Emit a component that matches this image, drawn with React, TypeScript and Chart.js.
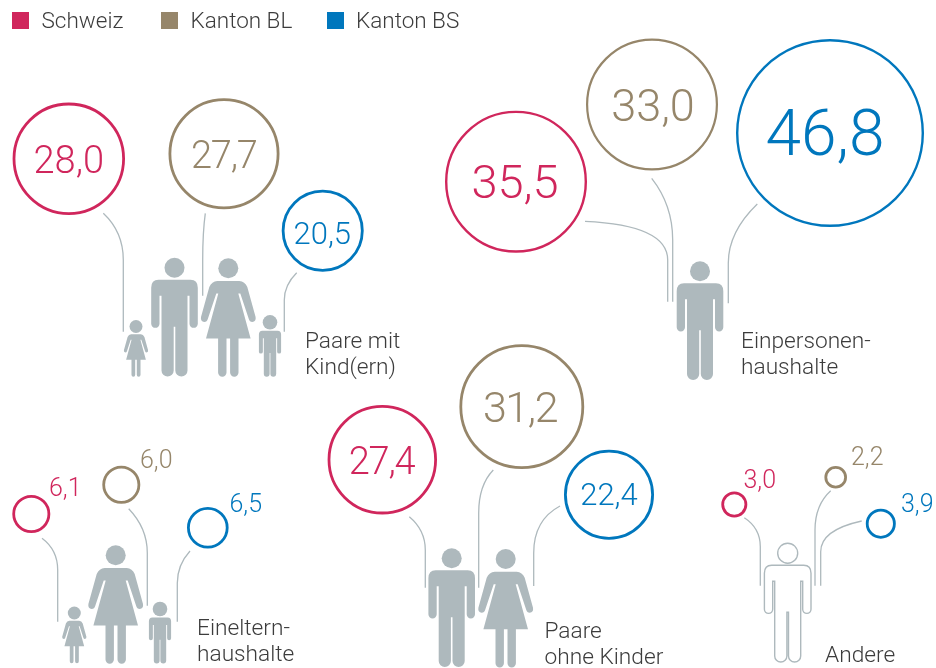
import React, { useEffect, useRef } from "react";
import { Chart, registerables } from "chart.js";

Chart.register(...registerables);

// ---- data ----
const categories = [
  ["Paare mit", "Kind(ern)"],
  ["Einpersonen-", "haushalte"],
  ["Eineltern-", "haushalte"],
  ["Paare", "ohne Kinder"],
  ["Andere"],
];
const seriesNames = ["Schweiz", "Kanton BL", "Kanton BS"];
const schweiz = [28.0, 35.5, 6.1, 27.4, 3.0];
const kantonBL = [27.7, 33.0, 6.0, 31.2, 2.2];
const kantonBS = [20.5, 46.8, 6.5, 22.4, 3.9];

// ---- layout (page pixels, kept apart from the values) ----
const W = 936;
const H = 668;
const colors = ["#D0265C", "#96866A", "#0077BD"];
const grey = "#AEB9BD";
const ink = "#3C3C3C";
const FONT = "Roboto, 'Liberation Sans', sans-serif";

const bubbleX = [
  [68.8, 516, 31.3, 382.3, 734.3],
  [224, 652, 121.3, 521.8, 835.7],
  [322.7, 830, 207.8, 609, 880.8],
];
const bubbleY = [
  [158.8, 181.7, 514, 459.7, 504.5],
  [153.8, 104.5, 484.7, 406.7, 477.3],
  [230.8, 133, 527.8, 494.7, 523.7],
];
const bubbleOuter = [
  [56.2, 71, 19, 54.7, 13],
  [55.5, 66, 19, 62.4, 11.3],
  [41, 94, 20.8, 45, 15],
];
const bubbleStroke = [
  [2.8, 2.4, 2.8, 2.8, 2.8],
  [2.8, 2.2, 2.8, 2.8, 2.8],
  [2.8, 2.4, 2.8, 2.8, 2.8],
];
const labelSize = [
  [38, 47, 25, 38, 25],
  [38, 45, 25, 43, 25],
  [31, 64, 25, 31, 25],
];
const labelTrack = [
  [0, 0, 0, -1.2, 0],
  [-1.2, 0, 0, -1.4, 0],
  [0, 0, 0, 0, 0],
];
// label anchor: centre x / baseline y; small circles carry it outside, left aligned
const labelX = [
  [68.8, 515, 49, 381.5, 743.5],
  [223.8, 653, 140, 520, 851],
  [322.3, 825, 229.5, 609, 901],
];
const labelY = [
  [172.7, 198.3, 495.7, 474.3, 488.3],
  [167.7, 121, 468.3, 422.3, 465],
  [244, 155, 511.7, 505, 511.7],
];
const labelInside = [true, true, false, true, false];

const legendBoxX = [12, 161, 327];
const legendTextX = [41.5, 190.5, 356];
const captionX = [305, 741, 197, 544.5, 825];
const captionY = [347.7, 348, 635, 637.7, 662.3];

// connector: start x, y, control x(=vertical x), control y, vertical start y, end y
const connectors = [
  [103.3, 213.3, 123.3, 232, 260, 331.7],
  [205.3, 213.3, 202.7, 232, 260, 295.7],
  [296.7, 272.7, 284.3, 285, 300, 331.7],
  [585, 221.3, 667.7, 225, 260, 301.7],
  [651.7, 178.3, 672.7, 205, 240, 301.7],
  [757.3, 204, 728.3, 232, 263, 303.3],
  [42, 538.3, 57.7, 550, 570, 621.7],
  [128.7, 508.7, 147.3, 528, 553, 605.7],
  [190, 551, 177.3, 565, 583, 621.7],
  [409.3, 516.7, 425.3, 530, 550, 587.7],
  [493.3, 470, 478.7, 485, 513, 587.7],
  [560, 506, 533.7, 520, 553, 586],
  [744.3, 517.7, 760.3, 528, 546.7, 585.7],
  [830.7, 490.7, 815, 505, 530, 585.7],
  [861.7, 521, 820.7, 530, 551.7, 585.7],
];

type Figure = { kind: "man" | "woman" | "boy" | "girl"; cx: number; top: number; outline?: boolean };
const figures: Figure[] = [
  { kind: "girl", cx: 136, top: 320 },
  { kind: "man", cx: 174.5, top: 257.7 },
  { kind: "woman", cx: 228.3, top: 258.3 },
  { kind: "boy", cx: 270, top: 315 },
  { kind: "man", cx: 700, top: 261.3 },
  { kind: "girl", cx: 74.3, top: 606.5 },
  { kind: "woman", cx: 115.7, top: 545.3 },
  { kind: "boy", cx: 160, top: 601.7 },
  { kind: "man", cx: 451.7, top: 548.3 },
  { kind: "woman", cx: 505.7, top: 549 },
  { kind: "man", cx: 787.7, top: 543.2, outline: true },
];

function manBody() {
  const p = new Path2D();
  p.moveTo(-16, 0);
  p.lineTo(16, 0);
  p.quadraticCurveTo(23.3, 0, 23.3, 8);
  p.lineTo(23.3, 44);
  p.arc(19.15, 44, 4.15, 0, Math.PI);
  p.lineTo(15, 16);
  p.lineTo(13, 16);
  p.lineTo(13, 90.7);
  p.arc(6.9, 90.7, 6.1, 0, Math.PI);
  p.lineTo(0.8, 47);
  p.lineTo(-0.8, 47);
  p.lineTo(-0.8, 90.7);
  p.arc(-6.9, 90.7, 6.1, 0, Math.PI);
  p.lineTo(-13, 16);
  p.lineTo(-15, 16);
  p.lineTo(-15, 44);
  p.arc(-19.15, 44, 4.15, 0, Math.PI);
  p.lineTo(-23.3, 8);
  p.quadraticCurveTo(-23.3, 0, -16, 0);
  p.closePath();
  return p;
}

function womanBody() {
  const p = new Path2D();
  p.moveTo(-11, 0);
  p.lineTo(11, 0);
  p.quadraticCurveTo(16.5, 0.5, 19, 6);
  p.lineTo(27.3, 36);
  p.quadraticCurveTo(28, 40.5, 24, 41);
  p.quadraticCurveTo(21.3, 41, 20.5, 38);
  p.lineTo(12, 12.5);
  p.lineTo(10, 12.5);
  p.lineTo(22.3, 57.5);
  p.lineTo(10.2, 57.5);
  p.lineTo(10.2, 91.5);
  p.arc(6, 91.5, 4.2, 0, Math.PI);
  p.lineTo(1.8, 57.5);
  p.lineTo(-1.8, 57.5);
  p.lineTo(-1.8, 91.5);
  p.arc(-6, 91.5, 4.2, 0, Math.PI);
  p.lineTo(-10.2, 57.5);
  p.lineTo(-22.3, 57.5);
  p.lineTo(-10, 12.5);
  p.lineTo(-12, 12.5);
  p.lineTo(-20.5, 38);
  p.quadraticCurveTo(-21.3, 41, -24, 41);
  p.quadraticCurveTo(-28, 40.5, -27.3, 36);
  p.lineTo(-19, 6);
  p.quadraticCurveTo(-16.5, 0.5, -11, 0);
  p.closePath();
  return p;
}

const figureSpec = {
  man: { body: manBody, headR: 10, bodyTop: 22, scale: 1 },
  woman: { body: womanBody, headR: 10, bodyTop: 22.7, scale: 1 },
  boy: { body: manBody, headR: 7.3, bodyTop: 15.7, scale: 0.476 },
  girl: { body: womanBody, headR: 6.5, bodyTop: 14.3, scale: 0.443 },
};

const infographic = {
  id: "infographic",
  beforeDatasetsDraw(chart: any) {
    const { ctx, scales } = chart;
    const px = (v: number) => scales.x.getPixelForValue(v);
    const py = (v: number) => scales.y.getPixelForValue(v);
    ctx.save();
    // connectors
    ctx.strokeStyle = grey;
    ctx.lineWidth = 1.3;
    connectors.forEach(([x0, y0, x1, cy, y1, y2]) => {
      ctx.beginPath();
      ctx.moveTo(px(x0), py(y0));
      ctx.quadraticCurveTo(px(x1), py(cy), px(x1), py(y1));
      ctx.lineTo(px(x1), py(y2));
      ctx.stroke();
    });
    // figures
    figures.forEach((f) => {
      const spec = figureSpec[f.kind];
      const cx = px(f.cx);
      const top = py(f.top);
      const head = new Path2D();
      head.arc(cx, top + spec.headR, spec.headR, 0, Math.PI * 2);
      if (f.outline) {
        ctx.strokeStyle = grey;
        ctx.lineWidth = 1.4;
        ctx.stroke(head);
      } else {
        ctx.fillStyle = grey;
        ctx.fill(head);
      }
      ctx.save();
      ctx.translate(cx, top + spec.bodyTop);
      ctx.scale(spec.scale, spec.scale);
      const body = spec.body();
      if (f.outline) {
        ctx.strokeStyle = grey;
        ctx.lineWidth = 1.4;
        ctx.stroke(body);
      } else {
        ctx.fillStyle = grey;
        ctx.fill(body);
      }
      ctx.restore();
    });
    ctx.restore();
  },
  afterDatasetsDraw(chart: any) {
    const { ctx, scales, data } = chart;
    const px = (v: number) => scales.x.getPixelForValue(v);
    const py = (v: number) => scales.y.getPixelForValue(v);
    ctx.save();
    ctx.textBaseline = "alphabetic";
    // legend
    data.datasets.forEach((ds: any, i: number) => {
      ctx.fillStyle = colors[i];
      ctx.fillRect(legendBoxX[i], 12, 17, 17);
      ctx.fillStyle = ink;
      ctx.textAlign = "left";
      ctx.font = `300 22.5px ${FONT}`;
      ctx.fillText(ds.label, legendTextX[i], 28.3);
    });
    // captions
    ctx.fillStyle = ink;
    ctx.textAlign = "left";
    ctx.font = `300 22.7px ${FONT}`;
    categories.forEach((lines, c) => {
      lines.forEach((line, l) => {
        ctx.fillText(line, captionX[c], captionY[c] + l * 26.4);
      });
    });
    // values
    data.datasets.forEach((ds: any, i: number) => {
      ds.values.forEach((v: number, c: number) => {
        ctx.fillStyle = colors[i];
        ctx.font = `300 ${labelSize[i][c]}px ${FONT}`;
        ctx.letterSpacing = `${labelTrack[i][c]}px`;
        ctx.textAlign = labelInside[c] ? "center" : "left";
        ctx.fillText(v.toFixed(1).replace(".", ","), px(labelX[i][c]), py(labelY[i][c]));
      });
    });
    ctx.restore();
  },
};

export default function App() {
  const ref = useRef<HTMLCanvasElement>(null);
  useEffect(() => {
    const series = [schweiz, kantonBL, kantonBS];
    const chart = new Chart(ref.current as HTMLCanvasElement, {
      type: "bubble",
      data: {
        datasets: series.map((values, i) => ({
          label: seriesNames[i],
          values,
          data: values.map((_, c) => ({
            x: bubbleX[i][c],
            y: bubbleY[i][c],
            r: bubbleOuter[i][c] - bubbleStroke[i][c] / 2,
          })),
          backgroundColor: "rgba(0,0,0,0)",
          borderColor: colors[i],
          borderWidth: bubbleStroke[i],
          hoverBorderWidth: bubbleStroke[i],
          clip: false,
        })) as any,
      },
      options: {
        responsive: false,
        animation: false,
        layout: { padding: 0, autoPadding: false },
        plugins: { legend: { display: false }, tooltip: { enabled: false } },
        scales: {
          x: { type: "linear", display: false, min: 0, max: W },
          y: { type: "linear", display: false, min: 0, max: H, reverse: true },
        },
      },
      plugins: [infographic],
    });
    return () => chart.destroy();
  }, []);
  return (
    <div style={{ position: "absolute", left: 0, top: 0, width: W, height: H, background: "#fff" }}>
      <canvas ref={ref} width={W} height={H} style={{ display: "block" }} />
    </div>
  );
}
